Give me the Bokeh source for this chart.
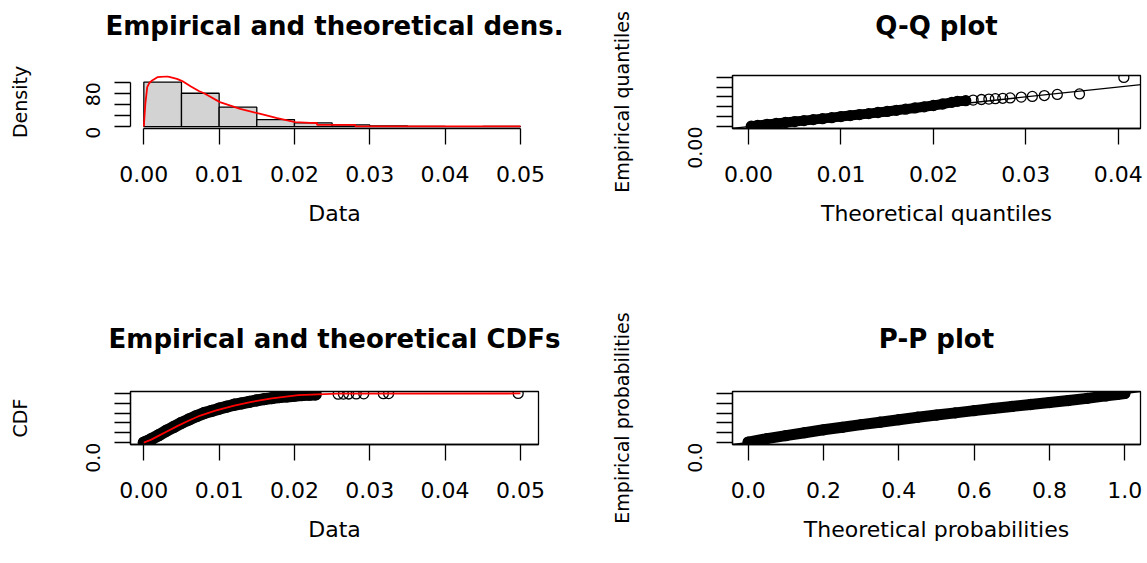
import math
from bokeh.plotting import figure
from bokeh.layouts import row, column
from bokeh.models import FixedTicker, Slope, Range1d, Title
from bokeh.embed import file_html
from bokeh.resources import INLINE

FONT = "DejaVu Sans"

# ---------------- data ----------------
# Panel 1: histogram + fitted density
bin_edges = [0.000, 0.005, 0.010, 0.015, 0.020, 0.025, 0.030, 0.035, 0.040, 0.045, 0.050]
bin_density = [80, 60, 35, 12.5, 6.5, 3, 1, 0.5, 0, 0.3]
dens_x = [0, 0.0002, 0.00045, 0.0007, 0.0011, 0.0018, 0.0031, 0.0044, 0.0051, 0.0062,
          0.0073, 0.0080, 0.0101, 0.0128, 0.0151, 0.0177, 0.0201, 0.0221, 0.0230, 0.0230,
          0.0281, 0.0281, 0.0500]
dens_y = [0, 41, 71, 78, 83, 89, 90.3, 86, 82, 72.5, 64, 60, 44, 32, 24, 15, 8, 6.6, 6.4, 3,
          3, 0.3, 0.2]

# Panel 2: Q-Q plot (theoretical, empirical quantiles)
qq_band_theo = [0.0003, 0.001, 0.002, 0.003, 0.004, 0.005, 0.006, 0.007, 0.008, 0.009, 0.010,
                0.011, 0.012, 0.013, 0.014, 0.015, 0.016, 0.017, 0.018, 0.019, 0.020, 0.021,
                0.022, 0.0226, 0.0235]
qq_band_emp = [0.0004, 0.0012, 0.0022, 0.0031, 0.0041, 0.0050, 0.0060, 0.0070, 0.0080, 0.0090,
               0.0101, 0.0111, 0.0121, 0.0131, 0.0142, 0.0153, 0.0164, 0.0176, 0.0188, 0.0200,
               0.0213, 0.0228, 0.0245, 0.0255, 0.0262]
qq_tail_theo = [0.0243, 0.0252, 0.0260, 0.0267, 0.0275, 0.0283, 0.0295, 0.0307,
                0.0320, 0.0334, 0.0358, 0.0406]
qq_tail_emp = [0.0268, 0.0274, 0.0278, 0.0282, 0.0286, 0.0290, 0.0298, 0.0305,
               0.0314, 0.0325, 0.0330, 0.0497]

# Panel 3: CDFs
cdf_band_x = [0.0, 0.0005, 0.001, 0.002, 0.003, 0.004, 0.005, 0.006, 0.007, 0.008, 0.009,
              0.010, 0.011, 0.012, 0.013, 0.014, 0.015, 0.016, 0.017, 0.018, 0.019, 0.020,
              0.021, 0.022, 0.0228]
cdf_band_p = [0.0, 0.03, 0.07, 0.15, 0.24, 0.32, 0.40, 0.47, 0.54, 0.60, 0.645, 0.69, 0.73,
              0.77, 0.80, 0.83, 0.86, 0.885, 0.905, 0.925, 0.94, 0.955, 0.967, 0.975, 0.98]
cdf_tail_x = [0.0258, 0.0265, 0.0272, 0.0282, 0.0292, 0.0318, 0.0325, 0.0497]
cdf_tail_p = [0.985, 0.987, 0.989, 0.991, 0.993, 0.996, 0.998, 1.0]
cdf_fit_x = [0, 0.001, 0.002, 0.003, 0.0045, 0.006, 0.0075, 0.0095, 0.012, 0.0143, 0.017,
             0.0205, 0.0257, 0.05]
cdf_fit_p = [0, 0.06, 0.14, 0.22, 0.34, 0.45, 0.55, 0.65, 0.75, 0.83, 0.9, 0.965, 0.995, 1.0]

# Panel 4: P-P plot
pp_theo = [0.0, 0.05, 0.1, 0.15, 0.2, 0.25, 0.3, 0.35, 0.4, 0.45, 0.5, 0.55, 0.6, 0.65, 0.7,
           0.75, 0.8, 0.85, 0.9, 0.95, 0.98, 1.0]
pp_emp = [0.01, 0.08, 0.14, 0.2, 0.26, 0.31, 0.365, 0.415, 0.465, 0.515, 0.56, 0.605, 0.65,
          0.695, 0.735, 0.775, 0.815, 0.855, 0.9, 0.95, 0.98, 1.0]

# ticks
data_ticks = [0.0, 0.01, 0.02, 0.03, 0.04, 0.05]
data_labels = ["0.00", "0.01", "0.02", "0.03", "0.04", "0.05"]
dens_ticks = [0, 20, 40, 60, 80]
dens_labels = ["0", "", "", "", "80"]
qq_x_ticks = [0.0, 0.01, 0.02, 0.03, 0.04]
qq_x_labels = ["0.00", "0.01", "0.02", "0.03", "0.04"]
qq_y_ticks = [0.0, 0.01, 0.02, 0.03, 0.04, 0.05]
qq_y_labels = ["0.00", "", "", "", "", ""]
prob_ticks = [0.0, 0.2, 0.4, 0.6, 0.8, 1.0]
prob_labels = ["0.0", "0.2", "0.4", "0.6", "0.8", "1.0"]
prob_y_labels = ["0.0", "", "", "", "", ""]

titles = ["Empirical and theoretical dens.", "Q-Q plot",
          "Empirical and theoretical CDFs", "P-P plot"]


def style_axis(ax, ticks, labels, vertical=False):
    ax.ticker = FixedTicker(ticks=ticks)
    ax.major_label_overrides = {t: l for t, l in zip(ticks, labels)}
    ax.major_tick_out = 16
    ax.major_tick_in = 0
    ax.minor_tick_out = 0
    ax.minor_tick_in = 0
    ax.major_tick_line_width = 1.3
    ax.major_tick_line_color = "black"
    ax.axis_line_width = 1.3
    ax.axis_line_color = "black"
    ax.major_label_text_font = FONT
    ax.major_label_text_color = "black"
    ax.axis_label_text_font = FONT
    ax.axis_label_text_font_style = "normal"
    ax.axis_label_text_color = "black"
    if vertical:
        ax.major_label_text_font_size = "19px"
        ax.axis_label_text_font_size = "19px"
        ax.major_label_orientation = math.pi / 2
        ax.major_label_standoff = 21
        ax.axis_label_standoff = 46
    else:
        ax.major_label_text_font_size = "22px"
        ax.axis_label_text_font_size = "22px"
        ax.major_label_standoff = 21
        ax.axis_label_standoff = 16


def make_fig(title, width, height, left, right, top, bottom, xr, yr, xlabel, ylabel,
             gap, box=True):
    p = figure(width=width, height=height, x_range=Range1d(*xr), y_range=Range1d(*yr),
               output_backend="svg", toolbar_location=None,
               min_border_left=left, min_border_right=right,
               min_border_top=top, min_border_bottom=bottom,
               background_fill_color="white", border_fill_color="white")
    p.grid.visible = False
    p.outline_line_color = "black" if box else None
    p.outline_line_width = 1.3
    p.xaxis.axis_label = xlabel
    p.yaxis.axis_label = ylabel
    p.title.text = ""
    # blank spacer next to the frame, then the real title further out (R-like gap)
    p.add_layout(Title(text=" ", text_font_size="1px", text_color="white", standoff=gap),
                 "above")
    p.add_layout(Title(text=title, align="center", text_font=FONT, text_font_size="26px",
                       text_font_style="bold", text_color="black", standoff=0), "above")
    return p


LW, RW = 573, 574
TH, BH = 281, 282

# Panel 1
p1 = make_fig(titles[0], LW, TH, 130, 35, 75, 153, (-0.00177, 0.0524), (-3.5, 92),
              "Data", "Density", 32, box=False)
style_axis(p1.xaxis[0], data_ticks, data_labels)
style_axis(p1.yaxis[0], dens_ticks, dens_labels, vertical=True)
p1.xaxis[0].bounds = (0, 0.05)
p1.yaxis[0].bounds = (0, 80)
p1.quad(left=bin_edges[:-1], right=bin_edges[1:], top=bin_density, bottom=0,
        fill_color="#D3D3D3", line_color="black", line_width=1.3)
p1.line(dens_x, dens_y, line_color="#FF0000", line_width=1.8)

# Panel 2
p2 = make_fig(titles[1], RW, TH, 159, 7, 75, 153, (-0.00173, 0.0424), (-0.002, 0.0517),
              "Theoretical quantiles", "Empirical quantiles", 32)
style_axis(p2.xaxis[0], qq_x_ticks, qq_x_labels)
style_axis(p2.yaxis[0], qq_y_ticks, qq_y_labels, vertical=True)
p2.add_layout(Slope(gradient=1, y_intercept=0, line_color="black", line_width=1.3))
p2.line(qq_band_theo, qq_band_emp, line_color="black", line_width=10, line_cap="round",
        line_join="round")
p2.scatter(qq_band_theo, qq_band_emp, marker="circle", size=10, fill_color=None,
           line_color="black", line_width=1.3)
p2.scatter(qq_tail_theo, qq_tail_emp, marker="circle", size=10, fill_color=None,
           line_color="black", line_width=1.3)

# Panel 3
p3 = make_fig(titles[2], LW, BH, 130, 35, 110, 119, (-0.00177, 0.0524), (-0.04, 1.04),
              "Data", "CDF", 35)
style_axis(p3.xaxis[0], data_ticks, data_labels)
style_axis(p3.yaxis[0], prob_ticks, prob_y_labels, vertical=True)
p3.line(cdf_band_x, cdf_band_p, line_color="black", line_width=12, line_cap="round",
        line_join="round")
p3.scatter(cdf_band_x, cdf_band_p, marker="circle", size=11, fill_color=None,
           line_color="black", line_width=1.3)
p3.scatter(cdf_tail_x, cdf_tail_p, marker="circle", size=10, fill_color=None,
           line_color="black", line_width=1.3)
p3.line(cdf_fit_x, cdf_fit_p, line_color="#FF0000", line_width=1.8)

# Panel 4
p4 = make_fig(titles[3], RW, BH, 159, 7, 110, 119, (-0.0416, 1.0416), (-0.04, 1.04),
              "Theoretical probabilities", "Empirical probabilities", 35)
style_axis(p4.xaxis[0], prob_ticks, prob_labels)
style_axis(p4.yaxis[0], prob_ticks, prob_y_labels, vertical=True)
p4.add_layout(Slope(gradient=1, y_intercept=0, line_color="black", line_width=1.3))
p4.line(pp_theo, pp_emp, line_color="black", line_width=11, line_cap="round", line_join="round")
p4.scatter(pp_theo, pp_emp, marker="circle", size=10, fill_color=None,
           line_color="black", line_width=1.3)

layout = column(row(p1, p2, spacing=0), row(p3, p4, spacing=0), spacing=0)

open("out.html", "w").write(file_html(layout, INLINE))
